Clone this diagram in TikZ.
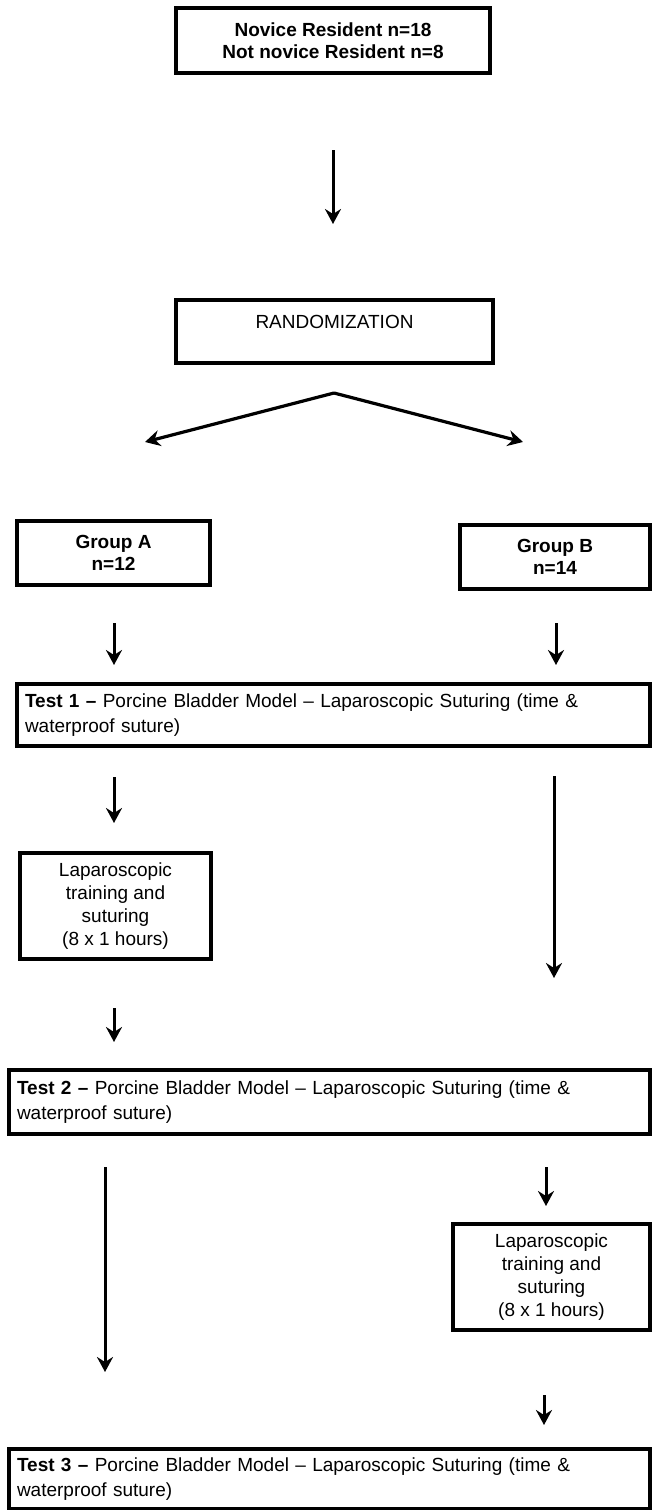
\documentclass[tikz,border=0pt]{standalone}
\usepackage{fontspec}
\setmainfont{Liberation Sans}
\usetikzlibrary{arrows.meta}
\tikzset{
  box/.style={draw=black, line width=3.5pt, rectangle, inner sep=0pt, outer sep=0pt,
    font=\fontsize{19pt}{23pt}\selectfont, align=center},
  boldbox/.style={box, font=\fontsize{19pt}{22.5pt}\selectfont\bfseries},
  testbox/.style={box, align=left, inner xsep=8pt, font=\fontsize{19pt}{25pt}\selectfont},
  arr/.style={line width=3pt, -{Stealth[length=15pt,width=16pt,inset=5pt]}},
  divline/.style={line width=3.2pt, -{Stealth[length=15pt,width=16pt,inset=5pt]}, line join=miter}
}
\begin{document}
\begin{tikzpicture}[x=1pt,y=-1pt]
\useasboundingbox (0,0) rectangle (652,1510);

% boxes
\node[boldbox, line width=4pt, minimum width=314pt, minimum height=65pt] (top) at (333,40.5) {Novice Resident n=18\\Not novice Resident n=8};
\node[box, minimum width=317pt, minimum height=63pt] (rand) at (334.5,331.5) {\raisebox{19pt}{RANDOMIZATION}};
\node[boldbox, minimum width=193pt, minimum height=64pt] (ga) at (113.5,553) {Group A\\n=12};
\node[boldbox, minimum width=190pt, minimum height=64pt] (gb) at (555,557) {Group B\\n=14};
\node[testbox, text width=617pt, minimum height=62pt] (t1) at (333.5,715) {\textbf{Test 1 –} Porcine Bladder Model – Laparoscopic Suturing (time \&\\waterproof suture)};
\node[box, minimum width=191pt, minimum height=106pt] (la) at (115.5,906) {Laparoscopic\\training and\\suturing\\(8 x 1 hours)};
\node[testbox, text width=625pt, minimum height=64pt] (t2) at (329.5,1102) {\textbf{Test 2 –} Porcine Bladder Model – Laparoscopic Suturing (time \&\\waterproof suture)};
\node[box, minimum width=197pt, minimum height=106pt] (lb) at (551.5,1277) {Laparoscopic\\training and\\suturing\\(8 x 1 hours)};
\node[testbox, text width=625pt, minimum height=60pt] (t3) at (329.5,1479) {\textbf{Test 3 –} Porcine Bladder Model – Laparoscopic Suturing (time \&\\waterproof suture)};

% connector end points
\coordinate (a1s) at (333,150);  \coordinate (a1e) at (333,224);
\coordinate (apex) at (334,393);
\coordinate (dl) at (145,442);   \coordinate (dr) at (523,442);
\coordinate (gas) at (114,623);  \coordinate (gae) at (114,665);
\coordinate (gbs) at (556,623);  \coordinate (gbe) at (556,665);
\coordinate (a2s) at (114,777);  \coordinate (a2e) at (114,823);
\coordinate (b1s) at (554,776);  \coordinate (b1e) at (554,978);
\coordinate (a3s) at (114,1008); \coordinate (a3e) at (114,1042);
\coordinate (a4s) at (105,1167); \coordinate (a4e) at (105,1372);
\coordinate (b2s) at (546,1167); \coordinate (b2e) at (546,1206);
\coordinate (b3s) at (544,1395); \coordinate (b3e) at (544,1425);

% connectors
\draw[arr] (a1s) -- (a1e);
\draw[divline] (apex) -- (dl);
\draw[divline] (apex) -- (dr);
\draw[arr] (gas) -- (gae);
\draw[arr] (gbs) -- (gbe);
\draw[arr] (a2s) -- (a2e);
\draw[arr] (b1s) -- (b1e);
\draw[arr] (a3s) -- (a3e);
\draw[arr] (a4s) -- (a4e);
\draw[arr] (b2s) -- (b2e);
\draw[arr] (b3s) -- (b3e);
\end{tikzpicture}
\end{document}
